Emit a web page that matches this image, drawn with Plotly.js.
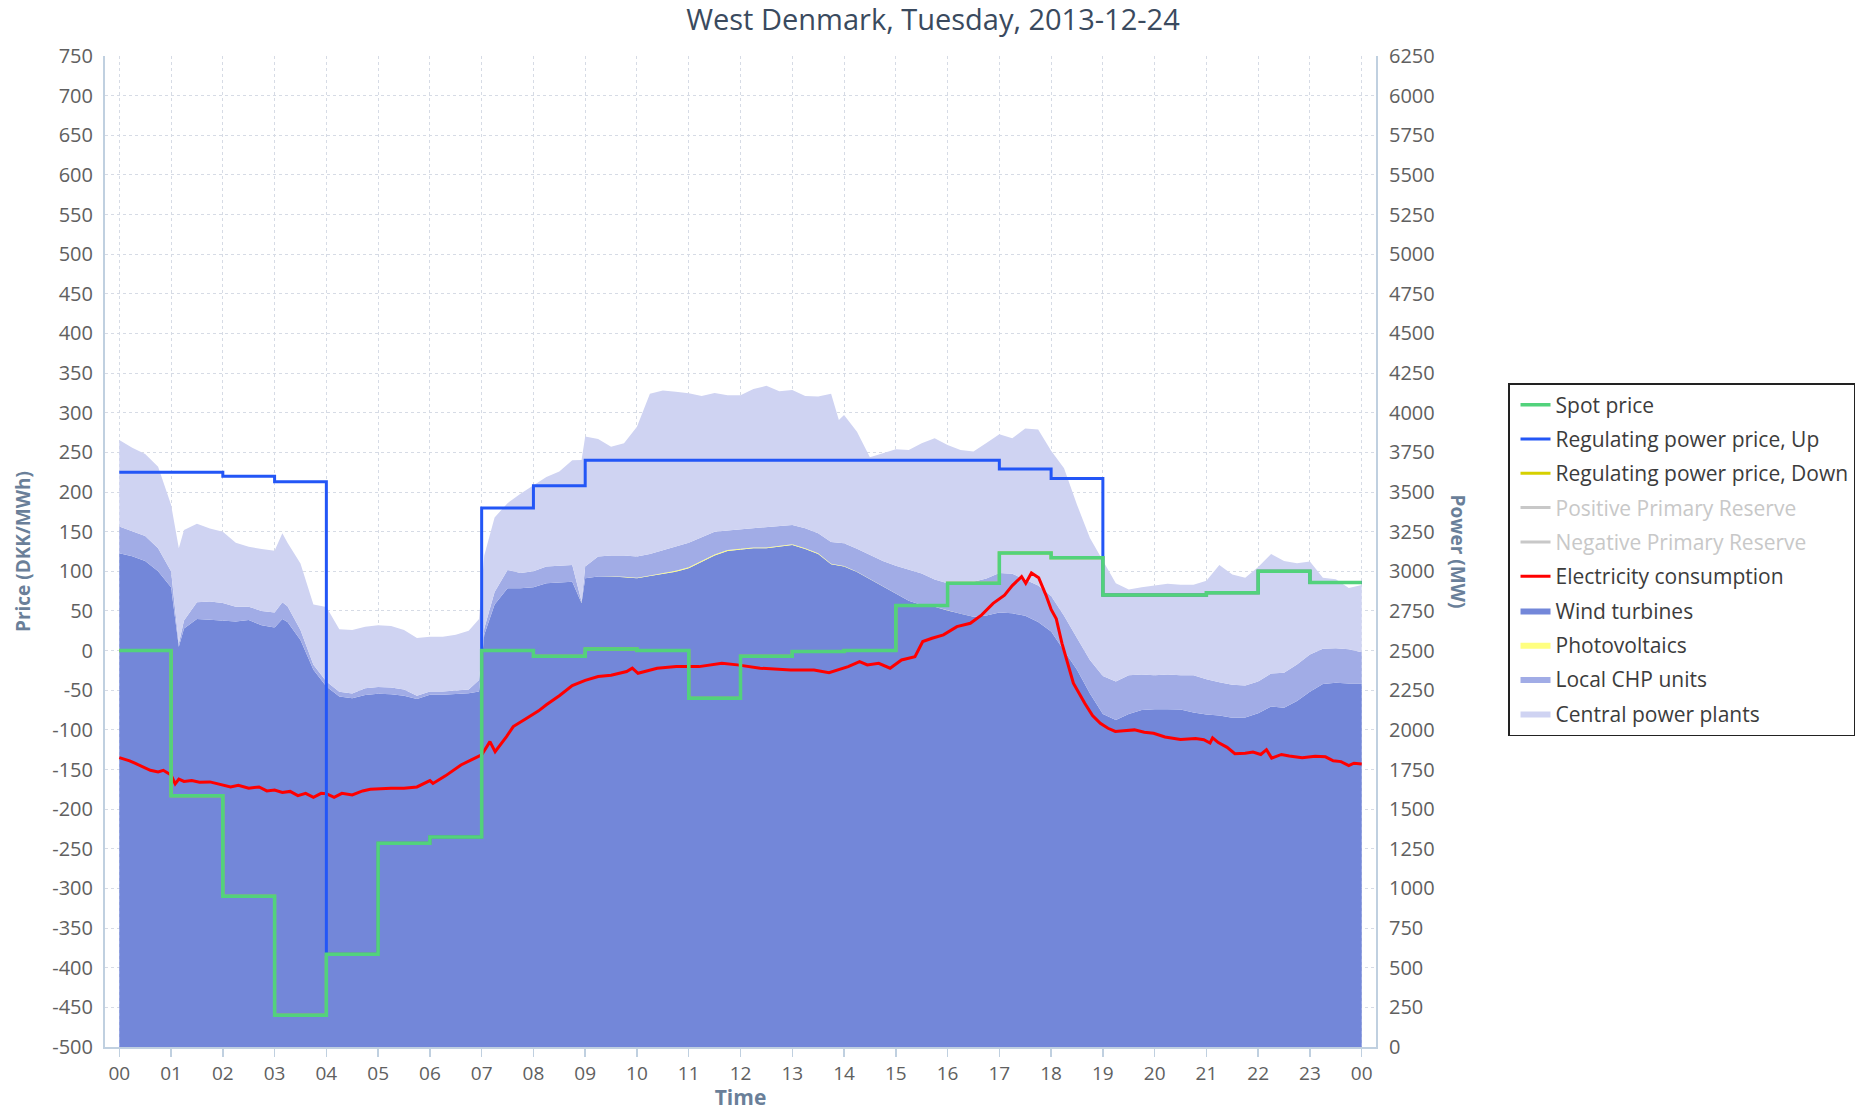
<!DOCTYPE html>
<html>
<head>
<meta charset="utf-8">
<title>West Denmark, Tuesday, 2013-12-24</title>
<script src="https://cdn.plot.ly/plotly-3.0.1.min.js"></script>
<style>
  html, body { margin: 0; padding: 0; background: #fff; }
  #chart { width: 1866px; height: 1111px; }
</style>
</head>
<body>
<div id="chart"></div>
<script>
// x axis: hours of the day
const hourTicks = [0, 1, 2, 3, 4, 5, 6, 7, 8, 9, 10, 11, 12, 13, 14, 15, 16, 17, 18, 19, 20, 21, 22, 23, 24];
const hourLabels = ['00', '01', '02', '03', '04', '05', '06', '07', '08', '09', '10', '11',
                    '12', '13', '14', '15', '16', '17', '18', '19', '20', '21', '22', '23', '00'];

// y axis ticks
const priceTicks = [-500, -450, -400, -350, -300, -250, -200, -150, -100, -50, 0, 50, 100,
                    150, 200, 250, 300, 350, 400, 450, 500, 550, 600, 650, 700, 750];
const powerTicks = [0, 250, 500, 750, 1000, 1250, 1500, 1750, 2000, 2250, 2500, 2750, 3000,
                    3250, 3500, 3750, 4000, 4250, 4500, 4750, 5000, 5250, 5500, 5750, 6000, 6250];

// Hourly prices, DKK/MWh (hour 00 .. 23)
const spotPrice    = [0, -183, -310, -460, -383, -243, -235, 0, -7, 2, 0, -60, -7, -1, 0, 57, 85, 123, 117, 70, 70, 73, 100, 86];
const regUpPrice   = [225, 225, 220, 213, -383, -243, -235, 180, 208, 240, 240, 240, 240, 240, 240, 240, 240, 229, 217, 70, 70, 73, 100, 86];
const regDownPrice = [0, -183, -310, -460, -383, -243, -235, 0, -7, 2, 0, -60, -7, -1, 0, 57, 85, 123, 117, 70, 70, 73, 100, 86];

// Production, MW (read every quarter hour, plus a few points at sharp turns)
const powerHours = [0, 0.25, 0.5, 0.75, 1, 1.15, 1.25, 1.5, 1.75, 2, 2.25, 2.5, 2.75, 3, 3.15, 3.25, 3.5, 3.75, 4,
  4.25, 4.5, 4.75, 5, 5.25, 5.5, 5.75, 6, 6.25, 6.5, 6.75, 6.95, 7.05, 7.25, 7.5, 7.75, 8, 8.25, 8.5, 8.75, 8.93,
  9, 9.25, 9.5, 9.75, 10, 10.25, 10.5, 10.75, 11, 11.25, 11.5, 11.75, 12, 12.25, 12.5, 12.75, 13, 13.25, 13.5, 13.75, 13.9,
  14, 14.25, 14.5, 14.75, 15, 15.25, 15.5, 15.75, 16, 16.25, 16.5, 16.75, 17, 17.25, 17.5, 17.75, 18, 18.25, 18.5, 18.75,
  19, 19.25, 19.5, 19.75, 20, 20.25, 20.5, 20.75, 21, 21.25, 21.5, 21.75, 22, 22.25, 22.5, 22.75, 23, 23.25, 23.5, 23.75, 24];

const windMW = [3114, 3095, 3065, 3000, 2900, 2525, 2640, 2700, 2695, 2690, 2683, 2693, 2660, 2645, 2700, 2680, 2567, 2380, 2273,
  2210, 2200, 2220, 2228, 2225, 2215, 2195, 2221, 2221, 2225, 2231, 2242, 2600, 2790, 2893, 2893, 2900, 2925, 2930, 2935, 2800,
  2956, 2967, 2967, 2962, 2956, 2970, 2985, 2998, 3020, 3060, 3100, 3128, 3135, 3145, 3145, 3155, 3166, 3140, 3110, 3045, 3035,
  3030, 2995, 2950, 2900, 2860, 2815, 2788, 2777, 2753, 2733, 2714, 2722, 2740, 2735, 2720, 2680, 2620, 2500, 2380, 2230,
  2100, 2063, 2100, 2125, 2130, 2130, 2128, 2110, 2097, 2090, 2076, 2078, 2105, 2148, 2140, 2182, 2240, 2290, 2298, 2292, 2292];

const pvMW = [0, 0, 0, 0, 0, 0, 0, 0, 0, 0, 0, 0, 0, 0, 0, 0, 0, 0, 0,
  0, 0, 0, 0, 0, 0, 0, 0, 0, 0, 0, 0, 0, 0, 0, 0, 0, 0, 0, 0, 1,
  1, 1, 2, 3, 3, 4, 4, 5, 5, 6, 6, 6, 6, 6, 6, 6, 5, 5, 4, 3, 3,
  3, 2, 1, 1, 0, 0, 0, 0, 0, 0, 0, 0, 0, 0, 0, 0, 0, 0, 0, 0,
  0, 0, 0, 0, 0, 0, 0, 0, 0, 0, 0, 0, 0, 0, 0, 0, 0, 0, 0, 0, 0];

const chpMW = [168, 157, 157, 145, 100, 20, 50, 105, 115, 110, 94, 84, 90, 95, 105, 100, 63, 30, 32,
  30, 30, 42, 42, 43, 40, 20, 21, 21, 23, 24, 73, 40, 80, 116, 97, 100, 105, 105, 105, 9,
  73, 125, 131, 135, 134, 136, 146, 153, 155, 149, 144, 124, 124, 120, 129, 126, 121, 127, 126, 137, 142,
  144, 145, 154, 164, 175, 197, 198, 171, 172, 192, 221, 233, 250, 250, 230, 230, 225, 220, 200, 210,
  240, 242, 245, 225, 215, 220, 217, 235, 223, 210, 209, 202, 200, 207, 220, 230, 235, 222, 217, 216, 198];

const centralMW = [546, 528, 518, 515, 420, 601, 570, 495, 460, 450, 403, 378, 390, 390, 435, 400, 420, 380, 470,
  395, 400, 388, 390, 387, 375, 365, 346, 346, 352, 370, 385, 460, 470, 421, 500, 540, 565, 595, 660, 892,
  820, 742, 686, 707, 819, 1010, 1005, 977, 943, 890, 875, 852, 845, 879, 890, 848, 852, 833, 862, 935, 774,
  809, 738, 615, 679, 735, 753, 821, 891, 871, 840, 820, 855, 875, 854, 950, 985, 915, 930, 840, 770,
  730, 620, 540, 550, 565, 572, 570, 570, 620, 740, 695, 680, 723, 755, 705, 639, 587, 448, 435, 387, 423];

// Electricity consumption, MW
const loadHours = [0, 0.1, 0.2, 0.3, 0.4, 0.5, 0.6, 0.75, 0.85, 1, 1.08, 1.15, 1.25, 1.4, 1.55, 1.75, 2, 2.15, 2.3, 2.5,
  2.7, 2.85, 3, 3.15, 3.3, 3.45, 3.6, 3.75, 3.9, 4, 4.15, 4.3, 4.5, 4.7, 4.85, 5, 5.25, 5.5, 5.75, 6,
  6.06, 6.3, 6.6, 6.8, 7, 7.16, 7.26, 7.48, 7.61, 7.87, 8.1, 8.25, 8.5, 8.75, 9, 9.25, 9.5, 9.8, 9.91, 10.02,
  10.39, 10.76, 11.2, 11.64, 11.94, 12.38, 12.97, 13.42, 13.71, 14.08, 14.3, 14.45, 14.67, 14.89, 15.11, 15.37, 15.52, 15.7, 15.92, 16.18,
  16.44, 16.66, 16.88, 17.1, 17.25, 17.43, 17.51, 17.62, 17.76, 17.9, 18, 18.1, 18.21, 18.43, 18.55, 18.65, 18.8, 18.95, 19.1, 19.24,
  19.4, 19.61, 19.8, 19.98, 20.2, 20.5, 20.79, 20.95, 21.07, 21.12, 21.23, 21.4, 21.55, 21.75, 21.9, 22.05, 22.16, 22.26, 22.45, 22.6,
  22.85, 23.1, 23.3, 23.45, 23.6, 23.75, 23.85, 24];

const loadMW = [1825, 1815, 1805, 1790, 1775, 1765, 1745, 1735, 1745, 1715, 1660, 1690, 1675, 1680, 1670, 1672, 1655, 1640, 1650, 1632,
  1640, 1615, 1620, 1605, 1612, 1585, 1600, 1575, 1600, 1598, 1575, 1600, 1590, 1615, 1625, 1628, 1632, 1632, 1640, 1680,
  1662, 1710, 1779, 1811, 1842, 1926, 1863, 1958, 2021, 2074, 2120, 2158, 2215, 2280, 2312, 2336, 2345, 2368, 2389, 2357,
  2389, 2399, 2399, 2420, 2410, 2389, 2378, 2378, 2361, 2399, 2431, 2410, 2420, 2389, 2441, 2462, 2557, 2578, 2599, 2651,
  2672, 2725, 2798, 2850, 2910, 2967, 2925, 2990, 2960, 2850, 2760, 2700, 2546, 2294, 2220, 2168, 2090, 2042, 2010, 1990,
  1995, 2000, 1985, 1979, 1955, 1940, 1945, 1938, 1917, 1950, 1920, 1890, 1850, 1852, 1860, 1845, 1875, 1822, 1845, 1835,
  1825, 1833, 1830, 1805, 1800, 1775, 1790, 1785];

const FONT = '"Open Sans", "DejaVu Sans", Arial, sans-serif';
const AXIS_COLOR = '#c0d0e0';
const GRID_COLOR = '#d6dbe5';
const TITLE_BLUE = '#6a7f99';

// hourly step line: repeat the last hour so the step runs to 24:00
function hourlyTrace(name, values, color, rank, width) {
    return {
        x: hourTicks,
        y: values.concat([values[values.length - 1]]),
        name: name,
        type: 'scatter',
        mode: 'lines',
        line: { shape: 'hv', color: color, width: width },
        yaxis: 'y2',
        legendgroup: name,
        legendrank: rank,
        hoverinfo: 'skip'
    };
}

function areaTrace(name, values, color, rank) {
    return {
        x: powerHours,
        y: values,
        name: name,
        type: 'scatter',
        mode: 'lines',
        stackgroup: 'production',
        line: { width: 0, color: color },
        fillcolor: color,
        yaxis: 'y',
        legendgroup: name,
        legendrank: rank,
        hoverinfo: 'skip'
    };
}

// series that are switched off in the original legend
function hiddenTrace(name, rank) {
    return {
        x: [0],
        y: [null],
        name: '<span style="color:#c8c8c8">' + name + '</span>',
        type: 'scatter',
        mode: 'lines',
        line: { color: '#c8c8c8', width: 3 },
        yaxis: 'y2',
        legendgroup: name,
        legendrank: rank,
        hoverinfo: 'skip'
    };
}

const traces = [
    areaTrace('Wind turbines', windMW, '#7387d9', 7),
    areaTrace('Photovoltaics', pvMW, '#ffff80', 8),
    areaTrace('Local CHP units', chpMW, '#a1ace6', 9),
    areaTrace('Central power plants', centralMW, '#cfd3f2', 10),
    {
        x: loadHours,
        y: loadMW,
        name: 'Electricity consumption',
        type: 'scatter',
        mode: 'lines',
        line: { color: '#ff0000', width: 3 },
        yaxis: 'y',
        legendgroup: 'load',
        legendrank: 6,
        hoverinfo: 'skip'
    },
    hourlyTrace('Regulating power price, Down', regDownPrice, '#d6d000', 3, 3),
    hourlyTrace('Regulating power price, Up', regUpPrice, '#2356f6', 2, 3),
    hiddenTrace('Positive Primary Reserve', 4),
    hiddenTrace('Negative Primary Reserve', 5),
    hourlyTrace('Spot price', spotPrice, '#52d27c', 1, 3.5)
];

const tickFont = { family: FONT, size: 20, color: '#606060' };

const layout = {
    width: 1866,
    height: 1111,
    margin: { l: 105, r: 489, t: 56, b: 64 },
    paper_bgcolor: '#ffffff',
    plot_bgcolor: '#ffffff',
    font: { family: FONT, color: '#333333' },
    showlegend: true,
    title: {
        text: 'West Denmark, Tuesday, 2013-12-24',
        font: { family: FONT, size: 29, color: '#3a4a5e' },
        x: 0.5,
        xanchor: 'center',
        y: 0.982,
        yanchor: 'middle'
    },
    xaxis: {
        range: [-0.276, 24.276],
        tickvals: hourTicks,
        ticktext: hourLabels,
        ticks: 'outside',
        ticklen: 8,
        tickwidth: 1.5,
        tickcolor: AXIS_COLOR,
        showline: true,
        linecolor: AXIS_COLOR,
        linewidth: 2,
        showgrid: true,
        gridcolor: GRID_COLOR,
        griddash: 'dot',
        zeroline: false,
        tickfont: { family: FONT, size: 19, color: '#606060' },
        automargin: false,
        fixedrange: true,
        title: {
            text: 'Time',
            font: { family: FONT, size: 21, color: TITLE_BLUE, weight: 'bold' },
            standoff: 8
        }
    },
    yaxis: {
        range: [0, 6250],
        side: 'right',
        tickvals: powerTicks,
        ticktext: powerTicks.map(String),
        ticks: '',
        ticklabelstandoff: 7,
        showline: true,
        linecolor: AXIS_COLOR,
        linewidth: 2,
        showgrid: true,
        gridcolor: GRID_COLOR,
        griddash: 'dot',
        zeroline: false,
        tickfont: tickFont,
        automargin: false,
        fixedrange: true
    },
    yaxis2: {
        overlaying: 'y',
        side: 'left',
        range: [-500, 750],
        tickvals: priceTicks,
        ticktext: priceTicks.map(String),
        ticks: '',
        ticklabelstandoff: 6,
        showline: true,
        linecolor: AXIS_COLOR,
        linewidth: 2,
        showgrid: false,
        zeroline: false,
        tickfont: tickFont,
        automargin: false,
        fixedrange: true,
        title: {
            text: 'Price (DKK/MWh)',
            font: { family: FONT, size: 19, color: TITLE_BLUE, weight: 'bold' },
            standoff: 17
        }
    },
    legend: {
        x: 1.103,
        y: 0.670,
        xanchor: 'left',
        yanchor: 'top',
        traceorder: 'grouped',
        tracegroupgap: 4,
        indentation: 6,
        itemwidth: 30,
        bgcolor: '#ffffff',
        bordercolor: '#222222',
        borderwidth: 1.5,
        font: { family: FONT, size: 21, color: '#3c3c3c' }
    },
    annotations: [{
        text: 'Power (MW)',
        xref: 'paper',
        yref: 'paper',
        x: 1.0653,
        y: 0.5,
        xanchor: 'center',
        yanchor: 'middle',
        textangle: 90,
        showarrow: false,
        font: { family: FONT, size: 19, color: TITLE_BLUE, weight: 'bold' }
    }]
};

Plotly.newPlot('chart', traces, layout, { displayModeBar: false, staticPlot: true });
</script>
</body>
</html>
